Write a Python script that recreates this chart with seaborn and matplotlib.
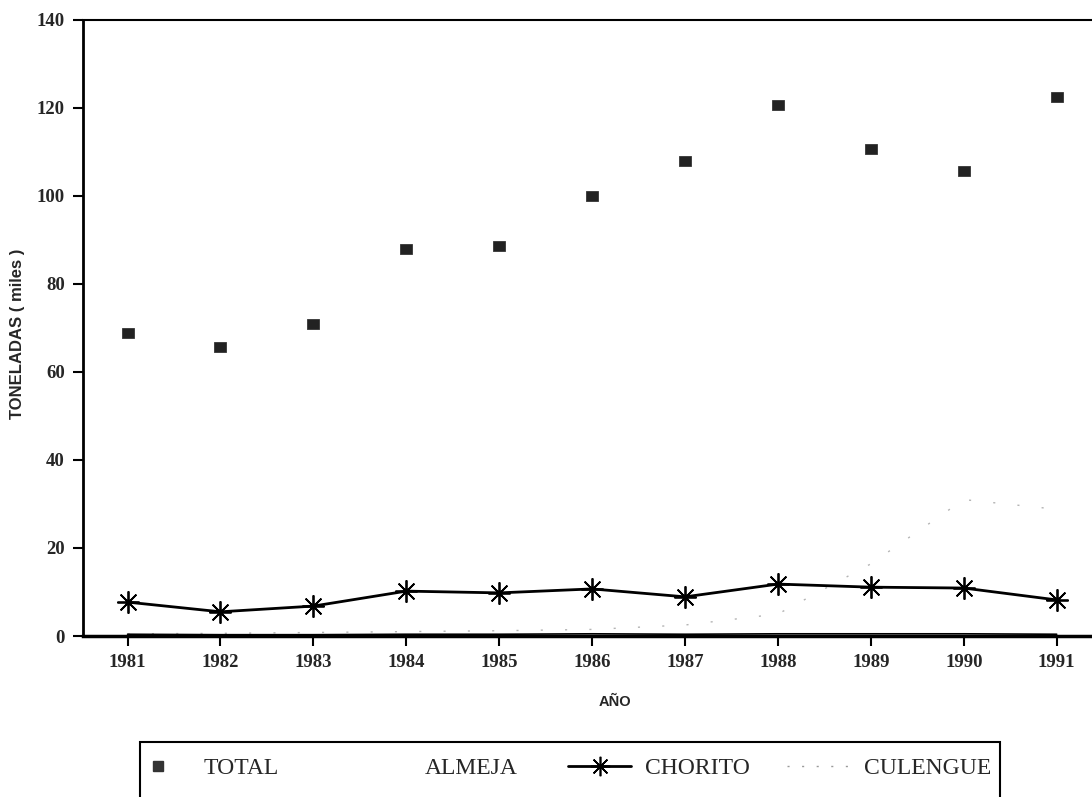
import numpy as np
import pandas as pd
import matplotlib
matplotlib.use("Agg")
import matplotlib.pyplot as plt
import seaborn as sns
from matplotlib.lines import Line2D
from matplotlib.patches import Rectangle

# datos (miles de toneladas)
years = [1981, 1982, 1983, 1984, 1985, 1986, 1987, 1988, 1989, 1990, 1991]
total = [68.9, 65.7, 70.9, 87.9, 88.6, 100.0, 108.0, 120.7, 110.7, 105.7, 122.5]
almeja = [0.4, 0.3, 0.3, 0.4, 0.4, 0.5, 0.4, 0.5, 0.5, 0.5, 0.4]
chorito = [7.7, 5.5, 6.8, 10.2, 9.8, 10.7, 8.9, 11.8, 11.1, 10.9, 8.2]
culengue = [0.5, 0.6, 0.8, 1.0, 1.2, 1.5, 2.5, 5.0, 16.4, 31.0, 28.8]

yticks = [0, 20, 40, 60, 80, 100, 120, 140]
labels = ["TOTAL", "ALMEJA", "CHORITO", "CULENGUE"]

df = pd.DataFrame({"year": years, "TOTAL": total, "ALMEJA": almeja,
                   "CHORITO": chorito, "CULENGUE": culengue})

sns.set_style("ticks")
plt.rcParams['font.family'] = ['Liberation Serif', 'DejaVu Serif']

fig = plt.figure(figsize=(10.92, 7.97), dpi=100)
ax = fig.add_axes([0.076, 0.202, 0.924, 0.773])

rect_marker = [(-1.25, -1), (1.25, -1), (1.25, 1), (-1.25, 1), (-1.25, -1)]

# culengue: linea segmentada muy tenue
sns.lineplot(data=df, x="year", y="CULENGUE", ax=ax, color="#b4b4b4",
             linewidth=1.0, linestyle=(0, (1.5, 16)), zorder=1)
# almeja: casi cero, se confunde con el eje
sns.lineplot(data=df, x="year", y="ALMEJA", ax=ax, color="black",
             linewidth=1.2, zorder=2)
sns.lineplot(data=df, x="year", y="CHORITO", ax=ax, color="black",
             linewidth=2.0, marker=(8, 2, 0), markersize=16,
             markeredgewidth=1.3, markeredgecolor="black", zorder=3)
sns.scatterplot(data=df, x="year", y="TOTAL", ax=ax, color="#222222",
                marker=rect_marker, s=85, edgecolor="#222222", linewidth=0.5,
                zorder=4)

ax.set_xlim(1980.52, 1991.38)
ax.set_ylim(0, 140)
ax.set_xticks(years)
ax.set_yticks(yticks)
ax.set_xticklabels([str(y) for y in years], fontsize=13.5, fontweight="bold")
ax.set_yticklabels([str(v) for v in yticks], fontsize=13.5, fontweight="bold")
ax.tick_params(axis="both", direction="out", length=7, width=1.5,
               color="black", pad=6)

ax.spines["right"].set_visible(False)
ax.spines["left"].set_linewidth(2.0)
ax.spines["bottom"].set_linewidth(2.5)
ax.spines["top"].set_linewidth(1.5)
for s in ["left", "bottom", "top"]:
    ax.spines[s].set_color("black")

ax.set_xlabel("AÑO", family="Liberation Sans", fontsize=10.5,
              fontweight="bold")
ax.set_ylabel("TONELADAS ( miles )", family="Liberation Sans", fontsize=12,
              fontweight="bold")
ax.xaxis.set_label_coords(0.527, -0.095)
ax.yaxis.set_label_coords(-0.057, 0.49)

handles = [
    Line2D([], [], linestyle="none", marker="s", markersize=7,
           color="#333333"),
    Line2D([], [], linestyle="none"),
    Line2D([], [], color="black", linewidth=2.0, marker=(8, 2, 0),
           markersize=14, markeredgewidth=1.2),
    Line2D([], [], color="#9a9a9a", linewidth=1.0, linestyle=(0, (1.5, 9))),
]

# caja de la leyenda (se corta en el borde inferior, como en el original)
fig.add_artist(Rectangle((140 / 1092, -0.02), 860 / 1092, 0.02 + 55 / 797,
                         transform=fig.transFigure, fill=False,
                         edgecolor="black", linewidth=1.5, clip_on=False))

text_x = [203, 425, 645, 864]
for h, lab, tx in zip(handles, labels, text_x):
    lg = fig.legend([h], [lab], loc="center left",
                    bbox_to_anchor=((tx - 77) / 1092, 1 - 768 / 797),
                    fontsize=17, frameon=False, handlelength=2.67,
                    handletextpad=0.6, borderpad=0, borderaxespad=0)

fig.savefig("out.png", dpi=100)
